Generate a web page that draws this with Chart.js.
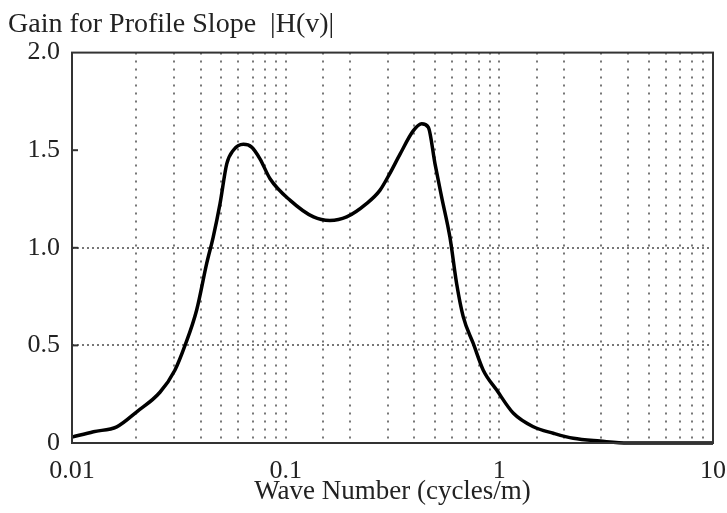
<!DOCTYPE html>
<html lang="en">
<head>
    <meta charset="UTF-8">
    <title>Gain for Profile Slope</title>
    <script src="https://cdn.jsdelivr.net/npm/chart.js"></script>
    <style>
        body { margin: 0; background: #fff; }
    </style>
</head>
<body>
    <canvas id="myChart" width="727" height="513"></canvas>
    <script>
        const waveNumber = [0.01, 0.0126, 0.0162, 0.0201, 0.0258, 0.0303, 0.0338, 0.0383, 0.0427, 0.0458,
            0.0493, 0.053, 0.0569, 0.0634, 0.0693, 0.0758, 0.0845, 0.105, 0.135, 0.161,
            0.193, 0.239, 0.276, 0.307, 0.343, 0.396, 0.433, 0.465, 0.50, 0.537,
            0.587, 0.631, 0.678, 0.755, 0.841, 0.972, 1.164, 1.443, 1.79, 2.22,
            2.96, 4.0, 10];
        const gain = [0.03, 0.058, 0.083, 0.16, 0.26, 0.373, 0.50, 0.68, 0.92, 1.055,
            1.226, 1.43, 1.50, 1.53, 1.516, 1.456, 1.354, 1.243, 1.158, 1.14,
            1.158, 1.226, 1.294, 1.38, 1.48, 1.60, 1.635, 1.618, 1.43, 1.26,
            1.055, 0.817, 0.646, 0.51, 0.373, 0.271, 0.152, 0.083, 0.05, 0.024,
            0.01, 0, 0];
        const xTickLabels = ['0.01', '0.1', '1', '10'];
        const yTickLabels = ['0', '0.5', '1.0', '1.5', '2.0'];

        const serif = "'Liberation Serif', 'DejaVu Serif', serif";

        // box round the plot area + short inward ticks on the left
        const frame = {
            id: 'frame',
            afterDatasetsDraw(chart) {
                const { ctx, chartArea: a } = chart;
                const y = chart.scales.y;
                ctx.save();
                ctx.strokeStyle = '#333';
                ctx.lineWidth = 2;
                ctx.strokeRect(a.left, a.top, a.right - a.left, a.bottom - a.top);
                [0.5, 1.0, 1.5].forEach(v => {
                    const py = y.getPixelForValue(v);
                    ctx.beginPath();
                    ctx.moveTo(a.left, py);
                    ctx.lineTo(a.left + 6, py);
                    ctx.stroke();
                });
                ctx.restore();
            }
        };

        const ctx = document.getElementById('myChart').getContext('2d');
        new Chart(ctx, {
            type: 'line',
            data: {
                datasets: [{
                    label: '|H(v)|',
                    data: waveNumber.map((x, i) => ({ x: x, y: gain[i] })),
                    borderColor: '#000',
                    borderWidth: 3.5,
                    pointRadius: 0,
                    tension: 0.4,
                    cubicInterpolationMode: 'monotone',
                    clip: false
                }]
            },
            options: {
                responsive: false,
                animation: false,
                layout: { padding: { left: 8, right: 14, top: 0, bottom: 0 } },
                plugins: {
                    legend: { display: false },
                    tooltip: { enabled: false },
                    title: {
                        display: true,
                        text: 'Gain for Profile Slope  |H(v)|',
                        align: 'start',
                        color: '#222',
                        font: { family: serif, size: 28, weight: 'normal' },
                        padding: { top: 8, bottom: 11 }
                    }
                },
                scales: {
                    x: {
                        type: 'logarithmic',
                        min: 0.01,
                        max: 10,
                        afterFit: s => {
                            s.height = 70;
                            s.paddingLeft = 0;
                            s.paddingRight = 0;
                        },
                        border: { display: false, dash: [2, 6] },
                        grid: {
                            color: '#777',
                            lineWidth: 2,
                            drawTicks: false
                        },
                        ticks: {
                            autoSkip: false,
                            maxRotation: 0,
                            padding: 17,
                            color: '#222',
                            font: { family: serif, size: 26, lineHeight: 0.85 },
                            callback: function (v) {
                                const e = Math.log10(v);
                                if (Math.abs(e - Math.round(e)) > 1e-6) return '';
                                return xTickLabels[Math.round(e) + 2];
                            }
                        },
                        title: {
                            display: true,
                            text: 'Wave Number (cycles/m)',
                            color: '#222',
                            font: { family: serif, size: 27, lineHeight: 0.9 },
                            padding: { top: 0, bottom: 9 }
                        }
                    },
                    y: {
                        min: 0,
                        max: 2,
                        afterFit: s => { s.width = 64; },
                        border: { display: false, dash: [2, 3] },
                        grid: {
                            color: c => (c.tick.value === 0.5 || c.tick.value === 1) ? '#777' : 'rgba(0,0,0,0)',
                            lineWidth: 2,
                            drawTicks: false
                        },
                        ticks: {
                            stepSize: 0.5,
                            padding: 12,
                            color: '#222',
                            font: { family: serif, size: 26 },
                            callback: v => yTickLabels[Math.round(v * 2)]
                        }
                    }
                }
            },
            plugins: [frame]
        });
    </script>
</body>
</html>
